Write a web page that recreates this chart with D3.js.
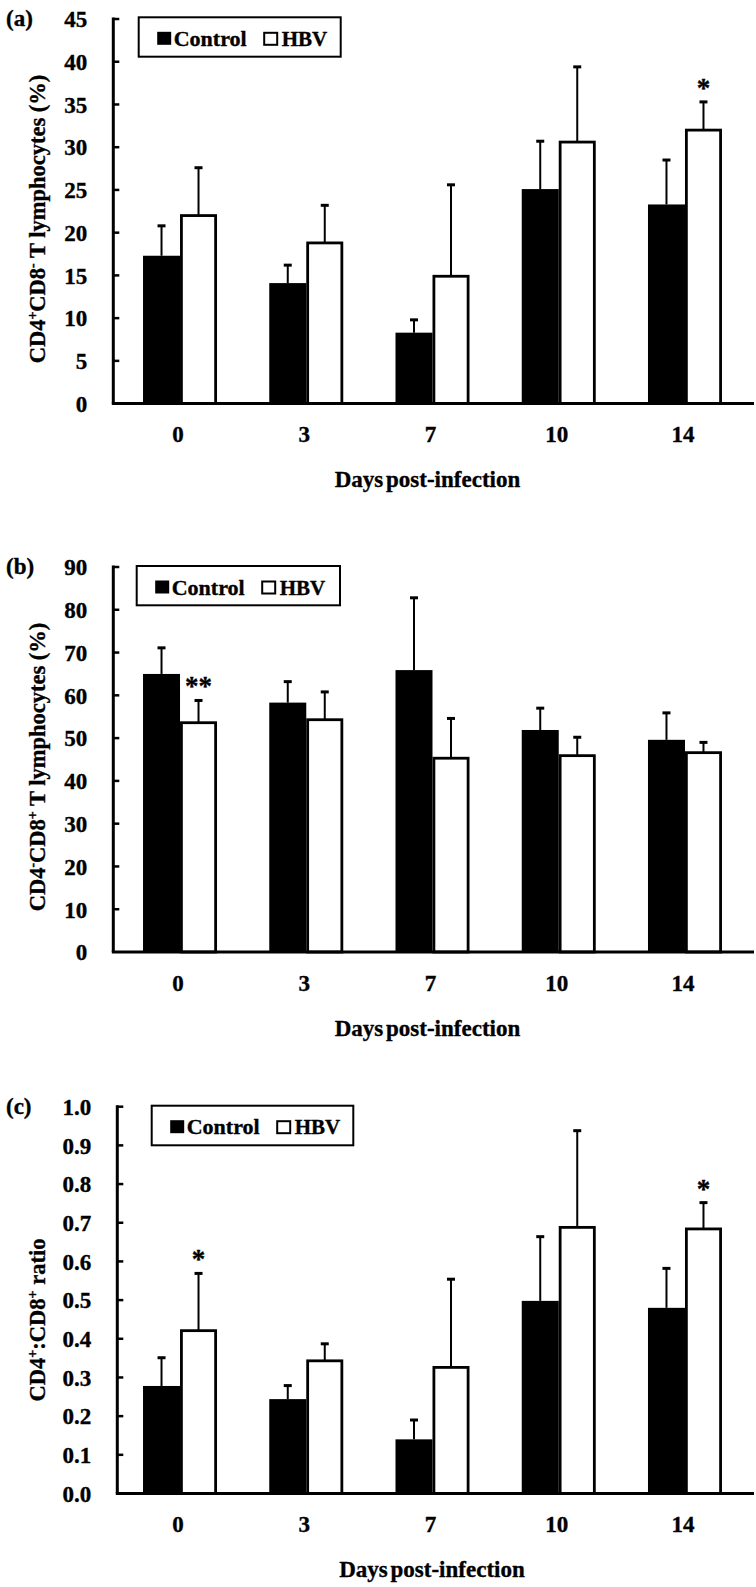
<!DOCTYPE html>
<html>
<head>
<meta charset="utf-8">
<script src="https://cdn.jsdelivr.net/npm/d3@7"></script>
<style>
  html, body { margin: 0; padding: 0; background: #fff; }
  svg { display: block; }
  text { font-family: "Liberation Serif", "Times New Roman", serif; font-weight: bold; fill: #000; stroke: #000; stroke-width: 0.35px; }
</style>
</head>
<body>
<svg id="chart" width="756" height="1587"></svg>
<script>
// ---------- DATA ----------
const days = ["0", "3", "7", "10", "14"];
const seriesNames = ["Control", "HBV"];

// Panel (a): CD4+CD8- T lymphocytes (%)
const aControl    = [17.3, 14.1, 8.3, 25.1, 23.3];
const aControlErr = [3.5, 2.1, 1.5, 5.6, 5.2];
const aHBV        = [22.0, 18.8, 14.9, 30.6, 32.0];
const aHBVErr     = [5.6, 4.4, 10.7, 8.8, 3.3];
const aSig        = ["", "", "", "", "*"];
const aTicks      = [0, 5, 10, 15, 20, 25, 30, 35, 40, 45];

// Panel (b): CD4-CD8+ T lymphocytes (%)
const bControl    = [65.0, 58.3, 65.9, 51.9, 49.6];
const bControlErr = [6.1, 4.9, 16.9, 5.1, 6.3];
const bHBV        = [53.6, 54.3, 45.3, 45.9, 46.6];
const bHBVErr     = [5.2, 6.5, 9.3, 4.3, 2.4];
const bSig        = ["**", "", "", "", ""];
const bTicks      = [0, 10, 20, 30, 40, 50, 60, 70, 80, 90];

// Panel (c): CD4+:CD8+ ratio
const cControl    = [0.278, 0.244, 0.140, 0.498, 0.480];
const cControlErr = [0.073, 0.035, 0.050, 0.166, 0.102];
const cHBV        = [0.421, 0.343, 0.326, 0.688, 0.684];
const cHBVErr     = [0.148, 0.044, 0.228, 0.250, 0.068];
const cSig        = ["*", "", "", "", "*"];
const cTicks      = [0, 0.1, 0.2, 0.3, 0.4, 0.5, 0.6, 0.7, 0.8, 0.9, 1.0];

const xTitle = "Days post-infection";

// ---------- LAYOUT ----------
const svg = d3.select("#chart");
svg.append("rect").attr("width", 756).attr("height", 1587).attr("fill", "#fff");

const panels = [
  { tag: "(a)", ctrl: aControl, ctrlErr: aControlErr, hbv: aHBV, hbvErr: aHBVErr, sig: aSig,
    ticks: aTicks, fmt: d3.format("d"), max: 45,
    axisX: 113.3, y0: 403.6, yTop: 19, tagY: 26,
    legend: { x: 138.7, y: 17.3, w: 202, h: 39.4 },
    title: [["CD4", 0], ["+", 1], ["CD8", 0], ["-", 1], [" T lymphocytes (%)", 0]], titleCY: 219,
    xTitleX: 427.5 },
  { tag: "(b)", ctrl: bControl, ctrlErr: bControlErr, hbv: bHBV, hbvErr: bHBVErr, sig: bSig,
    ticks: bTicks, fmt: d3.format("d"), max: 90,
    axisX: 113.3, y0: 952, yTop: 567, tagY: 574,
    legend: { x: 136.7, y: 566, w: 203.3, h: 39.3 },
    title: [["CD4", 0], ["-", 1], ["CD8", 0], ["+", 1], [" T lymphocytes (%)", 0]], titleCY: 767,
    xTitleX: 427.5 },
  { tag: "(c)", ctrl: cControl, ctrlErr: cControlErr, hbv: cHBV, hbvErr: cHBVErr, sig: cSig,
    ticks: cTicks, fmt: d3.format(".1f"), max: 1.0,
    axisX: 117.3, y0: 1493.5, yTop: 1106.7, tagY: 1114,
    legend: { x: 151.7, y: 1105.7, w: 201.6, h: 39.6 },
    title: [["CD4", 0], ["+", 1], [":CD8", 0], ["+", 1], [" ratio", 0]], titleCY: 1320,
    xTitleX: 432 }
];

const x = d3.scaleBand().domain(days).range([116.9, 748.1]).paddingInner(0).paddingOuter(0);
const barW = 37;

panels.forEach(p => {
  const g = svg.append("g");
  const y = d3.scaleLinear().domain([0, p.max]).range([p.y0, p.yTop]);

  // bars
  const ctrlG = g.append("g");
  ctrlG.selectAll("rect").data(p.ctrl).join("rect")
    .attr("x", (d, i) => x(days[i]) + x.bandwidth() / 2 - barW)
    .attr("y", d => y(d))
    .attr("width", barW)
    .attr("height", d => p.y0 - y(d))
    .attr("fill", "#000");

  const hbvG = g.append("g");
  hbvG.selectAll("rect").data(p.hbv).join("rect")
    .attr("x", (d, i) => x(days[i]) + x.bandwidth() / 2 + 1.4)
    .attr("y", d => y(d))
    .attr("width", barW - 2.8)
    .attr("height", d => p.y0 - y(d))
    .attr("fill", "#fff")
    .attr("stroke", "#000")
    .attr("stroke-width", 2.8);

  // error bars (upper only)
  const errs = [];
  p.ctrl.forEach((v, i) => errs.push({ cx: x(days[i]) + x.bandwidth() / 2 - barW / 2, v, e: p.ctrlErr[i] }));
  p.hbv.forEach((v, i) => errs.push({ cx: x(days[i]) + x.bandwidth() / 2 + barW / 2, v, e: p.hbvErr[i] }));
  const eg = g.append("g").attr("stroke", "#000");
  eg.selectAll("line.stem").data(errs).join("line").attr("class", "stem")
    .attr("x1", d => d.cx).attr("x2", d => d.cx)
    .attr("y1", d => y(d.v)).attr("y2", d => y(d.v + d.e))
    .attr("stroke-width", 2);
  eg.selectAll("line.cap").data(errs).join("line").attr("class", "cap")
    .attr("x1", d => d.cx - 4).attr("x2", d => d.cx + 4)
    .attr("y1", d => y(d.v + d.e)).attr("y2", d => y(d.v + d.e))
    .attr("stroke-width", 3);

  // significance marks
  g.selectAll("text.sig").data(p.sig).join("text").attr("class", "sig")
    .attr("x", (d, i) => x(days[i]) + x.bandwidth() / 2 + barW / 2)
    .attr("y", (d, i) => y(p.hbv[i] + p.hbvErr[i]) - 17 + 12)
    .attr("text-anchor", "middle")
    .attr("font-size", 27)
    .text(d => d);

  // axes
  g.append("line")
    .attr("x1", p.axisX).attr("x2", p.axisX)
    .attr("y1", p.yTop - 1.5).attr("y2", p.y0)
    .attr("stroke", "#000").attr("stroke-width", 3);
  g.append("line")
    .attr("x1", p.axisX - 1.5).attr("x2", 754)
    .attr("y1", p.y0).attr("y2", p.y0)
    .attr("stroke", "#000").attr("stroke-width", 3);
  // y ticks (inward)
  g.selectAll("line.ytick").data(p.ticks.slice(1)).join("line").attr("class", "ytick")
    .attr("x1", p.axisX).attr("x2", p.axisX + 6)
    .attr("y1", d => y(d)).attr("y2", d => y(d))
    .attr("stroke", "#000").attr("stroke-width", 2.5);
  g.selectAll("text.ylab").data(p.ticks).join("text").attr("class", "ylab")
    .attr("x", p.axisX - 26)
    .attr("y", d => y(d))
    .attr("dy", "0.36em")
    .attr("text-anchor", "end")
    .attr("font-size", 23)
    .text(d => p.fmt(d));

  // x tick labels
  g.selectAll("text.xlab").data(days).join("text").attr("class", "xlab")
    .attr("x", d => x(d) + x.bandwidth() / 2 - 2)
    .attr("y", p.y0 + 38.5)
    .attr("text-anchor", "middle")
    .attr("font-size", 23)
    .text(d => d);

  // x title
  g.append("text")
    .attr("x", p.xTitleX).attr("y", p.y0 + 83.5)
    .attr("text-anchor", "middle")
    .attr("font-size", 23)
    .attr("word-spacing", "-3")
    .text(xTitle);

  // y title
  const yt = g.append("text")
    .attr("transform", `translate(45,${p.titleCY}) rotate(-90)`)
    .attr("text-anchor", "middle")
    .attr("font-size", 22.5);
  let shifted = false;
  p.title.forEach(([t, sup]) => {
    const ts = yt.append("tspan").text(t);
    if (sup && !shifted) { ts.attr("dy", -8).attr("font-size", 14); shifted = true; }
    else if (sup && shifted) { ts.attr("font-size", 14); }
    else if (!sup && shifted) { ts.attr("dy", 8); shifted = false; }
  });

  // panel tag
  g.append("text").attr("x", 6).attr("y", p.tagY).attr("font-size", 23).text(p.tag);

  // legend
  const L = p.legend;
  const lg = g.append("g");
  lg.append("rect").attr("x", L.x).attr("y", L.y).attr("width", L.w).attr("height", L.h)
    .attr("fill", "#fff").attr("stroke", "#000").attr("stroke-width", 2);
  lg.append("rect").attr("x", L.x + 18.5).attr("y", L.y + 14.5).attr("width", 14).attr("height", 13)
    .attr("fill", "#000");
  lg.append("text").attr("x", L.x + 35).attr("y", L.y + 28.5).attr("font-size", 22).text(seriesNames[0]);
  lg.append("rect").attr("x", L.x + 125.5).attr("y", L.y + 15.5).attr("width", 13).attr("height", 12)
    .attr("fill", "#fff").attr("stroke", "#000").attr("stroke-width", 2);
  lg.append("text").attr("x", L.x + 143).attr("y", L.y + 28.5).attr("font-size", 21).text(seriesNames[1]);
});
</script>
</body>
</html>
